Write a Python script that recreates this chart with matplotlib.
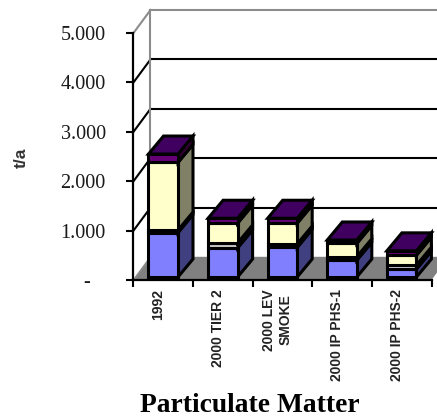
import matplotlib
matplotlib.use('Agg')
import matplotlib.pyplot as plt
from matplotlib.patches import Polygon

categories = ['1992', '2000 TIER 2', '2000 LEV\nSMOKE', '2000 IP PHS-1', '2000 IP PHS-2']
blue = [0.90, 0.59, 0.60, 0.34, 0.16]
pale = [0.05, 0.10, 0.07, 0.07, 0.08]
yellow = [1.37, 0.40, 0.42, 0.27, 0.20]
purple = [0.17, 0.10, 0.10, 0.07, 0.09]
value_ticks = [0, 1, 2, 3, 4, 5]
value_labels = ['-   ', '1.000', '2.000', '3.000', '4.000', '5.000']

# front colour, side colour, top colour for each stacked series
styles = [('#8080ff', '#404080', '#404080'),
          ('#c8c8c8', '#606060', '#606060'),
          ('#ffffcc', '#808066', '#808066'),
          ('#660077', '#330033', '#400060')]

plt.rcParams['font.family'] = ['Liberation Serif', 'DejaVu Serif']

W, H = 437, 418
fig = plt.figure(figsize=(W / 100, H / 100), dpi=100)
ax = fig.add_axes([0, 0, 1, 1])

# axis scale: 59.6 px per category, 49.4 px per unit of value
ax.set_xlim(-133.5 / 59.6, (W - 133.5) / 59.6)
ax.set_ylim((280 - H) / 49.4, 280 / 49.4)

wall_dx = 17 / 59.6
wall_dy = 23 / 49.4
bar_dx = 15 / 59.6
bar_dy = 18 / 49.4
bar_w = 29.5 / 59.6
n = len(categories)


def poly(pts, fc, ec='black', lw=2.2, z=2):
    ax.add_patch(Polygon(pts, closed=True, fc=fc, ec=ec, lw=lw, zorder=z, joinstyle='miter'))


# floor
poly([(0, 0), (n, 0), (n + wall_dx, wall_dy), (wall_dx, wall_dy)], '#808080', ec='none', z=1)
ax.plot([wall_dx, n + wall_dx], [wall_dy, wall_dy], color='#808080', lw=1, zorder=1)

# walls and gridlines
for v in value_ticks[1:]:
    col = '#8c8c8c' if v == 5 else 'black'
    ax.plot([0, wall_dx], [v, v + wall_dy], color=col, lw=1.5, zorder=1)
    ax.plot([wall_dx, n + wall_dx], [v + wall_dy, v + wall_dy], color=col, lw=1.5, zorder=1)
ax.plot([wall_dx, wall_dx], [wall_dy, 5 + wall_dy], color='#8c8c8c', lw=1.5, zorder=1)
ax.plot([0, wall_dx], [0, wall_dy], color='#8c8c8c', lw=1.2, zorder=1)

# stacked bars, front to top
for i in range(n):
    x0 = i + 15 / 59.6
    x1 = x0 + bar_w
    base = 0.06
    for vals, (front, side, top) in zip([blue, pale, yellow, purple], styles):
        h = vals[i]
        poly([(x1, base), (x1 + bar_dx, base + bar_dy),
              (x1 + bar_dx, base + h + bar_dy), (x1, base + h)], side, z=3 + i)
        poly([(x0, base), (x1, base), (x1, base + h), (x0, base + h)], front, z=3 + i)
        base += h
    poly([(x0, base), (x1, base), (x1 + bar_dx, base + bar_dy), (x0 + bar_dx, base + bar_dy)],
         styles[-1][2], z=3 + i)

# axes
for s in ['top', 'right']:
    ax.spines[s].set_visible(False)
ax.spines['left'].set_position(('data', 0))
ax.spines['bottom'].set_position(('data', 0))
ax.spines['left'].set_bounds(0, 5)
ax.spines['bottom'].set_bounds(0, n)
ax.spines['left'].set_linewidth(1.6)
ax.spines['bottom'].set_linewidth(1.6)
ax.spines['left'].set_zorder(20)
ax.spines['bottom'].set_zorder(20)
ax.set_yticks(value_ticks)
ax.set_yticklabels(value_labels, fontsize=14.5, color='#1a1a1a')
ax.set_xticks(range(n + 1))
ax.set_xticklabels([])
ax.tick_params(axis='y', length=5, width=1.5, pad=15)
ax.tick_params(axis='x', length=5, width=1.5)
ax.patch.set_visible(False)

for i, name in enumerate(categories):
    ax.annotate(name, (i + 0.5, 0), xytext=(-3.5, -6.5), textcoords='offset points',
                rotation=90, ha='center', va='top', fontsize=10, family='Liberation Sans',
                fontweight='bold', color='#222222', linespacing=1.25, multialignment='center')

ax.text(21, H - 158, 't/a', transform=None, rotation=90, ha='center', va='center',
        fontsize=12.5, fontweight='bold', color='#333333', family='Liberation Sans')
ax.text(250, H - 406, 'Particulate Matter', transform=None, ha='center', va='center',
        fontsize=19.8, fontweight='bold', color='black')

fig.savefig('out.png', dpi=100)
